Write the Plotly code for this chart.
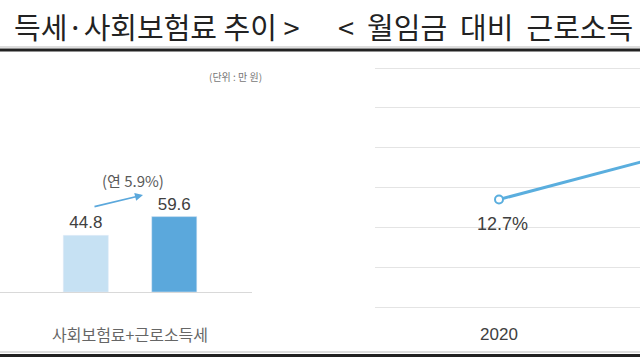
import plotly.graph_objects as go

# ---- data ----
bar_category = ["사회보험료+근로소득세"]
bar_series = ["이전", "이후"]
bar_values = [44.8, 59.6]
growth_label = "(연 5.9%)"
unit_label = "(단위 : 만 원)"

line_years = [2020, 2021]
line_values = [12.7, 13.7]

left_title = "득세·사회보험료 추이 >"
right_title = "<  월임금  대비  근로소득"

W, H = 640, 360
def px(x):
    return x / W
def py(y):
    return (H - y) / H

bar_colors = ["#c6e1f3", "#5ba8dc"]
line_color = "#5aaede"
num_font = "Liberation Sans, Arial, sans-serif"
kr_font = "Noto Sans CJK KR, sans-serif"

fig = go.Figure()

for name, val, col in zip(bar_series, bar_values, bar_colors):
    fig.add_trace(go.Bar(
        x=bar_category, y=[val], name=name, marker_color=col,
        text=[f"{val:.1f}"], textposition="outside", cliponaxis=False,
        textfont=dict(family=num_font, size=17, color="#404040"),
        xaxis="x", yaxis="y", showlegend=False,
    ))

fig.add_trace(go.Scatter(
    x=line_years, y=line_values, mode="lines+markers",
    line=dict(color=line_color, width=3),
    marker=dict(size=8, color="white", line=dict(color=line_color, width=2)),
    xaxis="x2", yaxis="y2", showlegend=False, cliponaxis=True,
))

fig.add_annotation(
    x=line_years[0], y=line_values[0], xref="x2", yref="y2",
    text=f"{line_values[0]:.1f}%", showarrow=False, yshift=-25, xshift=3,
    font=dict(family=num_font, size=18, color="#404040"),
)

bar_px_per_unit = 1.265
y_top = 175
grid_px = (307 - 68) / 6.0
fig.update_layout(
    width=W, height=H,
    margin=dict(l=0, r=0, t=0, b=0),
    paper_bgcolor="white", plot_bgcolor="white",
    barmode="group", bargap=0.298, bargroupgap=0.49,
    xaxis=dict(
        domain=[0, px(252)], type="category", range=[-0.516, 0.484],
        showline=True, linecolor="#d9d9d9", linewidth=1,
        showgrid=False, ticks="", ticklabelstandoff=29,
        tickfont=dict(family=kr_font, size=16, color="#666666"),
    ),
    yaxis=dict(
        domain=[py(292), py(292) + y_top * bar_px_per_unit / H],
        range=[0, y_top], visible=False,
    ),
    xaxis2=dict(
        domain=[px(375), 1], anchor="y2",
        range=[2020 - 124 / 151, 2020 - 124 / 151 + 265 / 151],
        tickvals=line_years, ticktext=[str(y) for y in line_years],
        showline=False, showgrid=False, zeroline=False, ticks="",
        ticklabelstandoff=13,
        tickfont=dict(family=num_font, size=17, color="#404040"),
    ),
    yaxis2=dict(
        domain=[py(307 + 2), py(68 - 2)], anchor="x2",
        range=[10 - 2 / grid_px, 16 + 2 / grid_px], tickvals=[10, 11, 12, 13, 14, 15, 16],
        showgrid=True, gridcolor="#e4e4e4", gridwidth=1,
        showticklabels=False, zeroline=False, showline=False, ticks="",
    ),
)

fig.add_annotation(x=px(301), y=py(26), xref="paper", yref="paper",
                   xanchor="right", yanchor="middle", showarrow=False,
                   text=left_title,
                   font=dict(family=kr_font, size=29, color="#222222"))
fig.add_annotation(x=px(336), y=py(26), xref="paper", yref="paper",
                   xanchor="left", yanchor="middle", showarrow=False,
                   text=right_title,
                   font=dict(family=kr_font, size=29, color="#222222"))

fig.add_annotation(x=px(207), y=py(67), xref="paper", yref="paper",
                   showarrow=False, text=unit_label,
                   font=dict(family=kr_font, size=10, color="#777777"))

fig.add_annotation(x=px(100), y=py(180), xref="paper", yref="paper",
                   showarrow=False, text=growth_label,
                   font=dict(family=kr_font, size=15, color="#595959"))
fig.add_annotation(x=px(143), y=py(195), xref="paper", yref="paper",
                   text="", showarrow=True, ax=-50, ay=12,
                   arrowhead=2, arrowsize=1, arrowwidth=1.6,
                   arrowcolor="#5ba8dc")

fig.add_shape(type="line", xref="paper", yref="paper", x0=0, x1=1,
              y0=py(47), y1=py(47), line=dict(color="#bbbbbb", width=1))
fig.add_shape(type="line", xref="paper", yref="paper", x0=0, x1=1,
              y0=py(50), y1=py(50), line=dict(color="#222222", width=3))
fig.add_shape(type="line", xref="paper", yref="paper", x0=0, x1=1,
              y0=py(352), y1=py(352), line=dict(color="#bbbbbb", width=1))
fig.add_shape(type="line", xref="paper", yref="paper", x0=0, x1=1,
              y0=py(355.5), y1=py(355.5), line=dict(color="#222222", width=3))

fig.write_html("out.html")
